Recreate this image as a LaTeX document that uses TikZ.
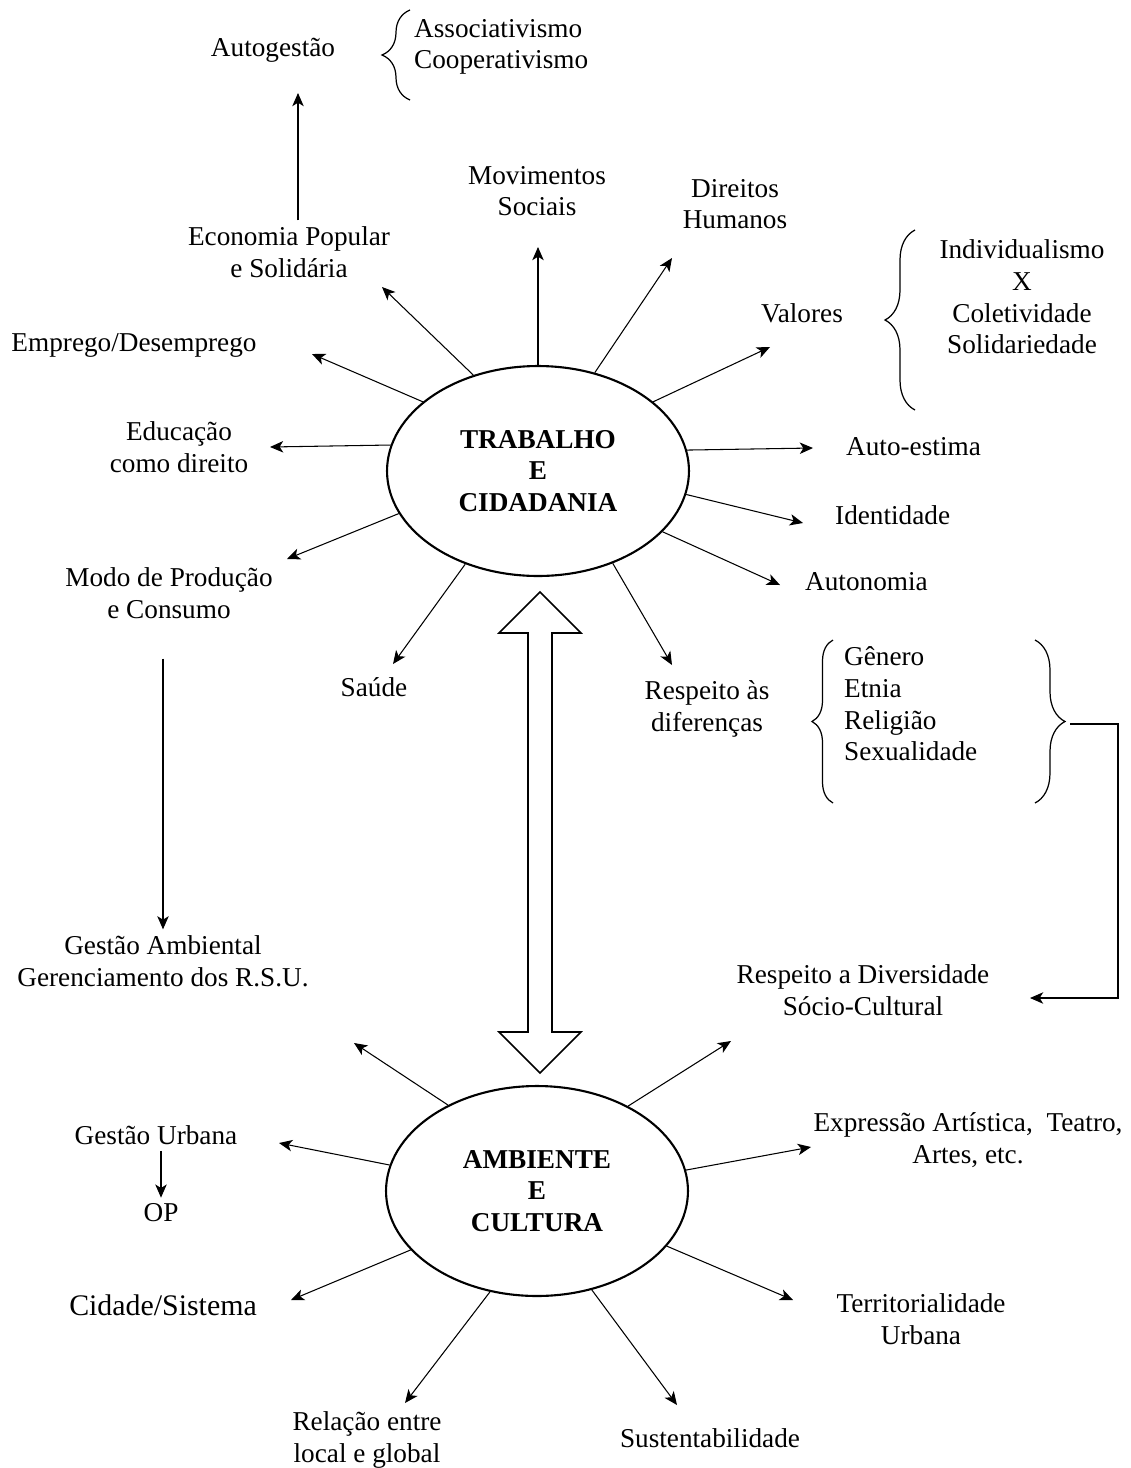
\documentclass[tikz,border=0pt]{standalone}
\usepackage{fontspec}
\setmainfont{Liberation Serif}
\usetikzlibrary{arrows.meta, decorations.pathreplacing, shapes.geometric, calc}

\begin{document}
\begin{tikzpicture}
  [x=0.02cm,y=-0.02cm,
   every node/.style={font=\fontsize{15.5}{18}\selectfont, align=center},
   hub/.style={ellipse, draw, line width=1.2pt, minimum width=6.04cm,
     minimum height=4.2cm, inner sep=0pt,
     font=\fontsize{15.5}{18}\selectfont\bfseries},
   arr/.style={-{Stealth[length=7.5pt,width=6.5pt,inset=2pt]}, line width=0.6pt},
   brc/.style={decorate, decoration={brace, amplitude=#1}, line width=0.7pt},
   bigarrow/.style={draw, line width=0.9pt}]
  \useasboundingbox (0,0) rectangle (1131,1468);

  % the two hubs
  \node[hub] (tc) at (538,471) {TRABALHO\\E\\CIDADANIA};
  \node[hub] (ac) at (537,1191) {AMBIENTE\\E\\CULTURA};

  % labels round TRABALHO E CIDADANIA
  \node (autog) at (273,50)  {Autogestão};
  \node[anchor=west, align=left] (assoc) at (408,47) {Associativismo\\Cooperativismo};
  \node (movs)  at (537,191) {Movimentos\\Sociais};
  \node (dirh)  at (735,204) {Direitos\\Humanos};
  \node (econ)  at (289,252) {Economia Popular\\e Solidária};
  \node (valor) at (802,313) {Valores};
  \node (indiv) at (1022,297) {Individualismo\\X\\Coletividade\\Solidariedade};
  \node (empr)  at (134,345) {Emprego/Desemprego};
  \node (educ)  at (179,447) {Educação\\como direito};
  \node[anchor=west] (autoe) at (840,447) {Auto-estima};
  \node[anchor=west] (ident) at (829,515) {Identidade};
  \node[anchor=west] (auton) at (799,582) {Autonomia};
  \node (modo)  at (169,593) {Modo de Produção\\e Consumo};
  \node (saude) at (374,687) {Saúde};
  \node (resp)  at (707,709) {Respeito às\\diferenças};
  \node[anchor=west, align=left] (genero) at (838,704) {Gênero\\Etnia\\Religião\\Sexualidade};

  % labels round AMBIENTE E CULTURA
  \node (gamb) at (163,961)  {Gestão Ambiental\\Gerenciamento dos R.S.U.};
  \node (rdiv) at (863,990)  {Respeito a Diversidade\\Sócio-Cultural};
  \node (gurb) at (156,1135) {Gestão Urbana};
  \node (op)   at (161,1213) {OP};
  \node (expr) at (968,1140) {Expressão Artística,\ \ Teatro,\\Artes, etc.};
  \node[font=\fontsize{17}{20}\selectfont] (cid) at (163,1305) {Cidade/Sistema};
  \node (terr) at (921,1319) {Territorialidade\\Urbana};
  \node (rel)  at (367,1440) {Relação entre\\local e global};
  \node (sust) at (710,1438) {Sustentabilidade};

  % braces
  \draw[brc=0.56cm] (410,100) -- (410,10);
  \draw[brc=0.6cm]  (915,410) -- (915,230);
  \draw[brc=0.42cm] (833,803) -- (833,640);
  \draw[brc=0.6cm]  (1035,640) -- (1035,803);

  % arrow ends
  \foreach \n/\px/\py in {eEcon/382/287, eMov/538/247, eDir/672/258, eVal/770/347,
      eAut/813/448, eIde/803/523, eAtn/780/585, eRes/672/665, eSau/393/664,
      eMod/287/559, eEdu/270/447, eEmp/312/354,
      fGam/354/1043, fDiv/731/1041, fUrb/279/1143, fExp/811/1147,
      fCid/291/1300, fTer/793/1300, fRel/405/1403, fSus/677/1405,
      eAutog/298/93, brR/1070/724, eDivS/1030/998}
    \coordinate (\n) at (\px,\py);

  \foreach \ang/\dst in {124.8/eEcon, 90/eMov, 60.6/eDir, 31.3/eVal, 8.8/eAut,
      -9.1/eIde, -26.9/eAtn, -51.2/eRes, 232.5/eSau, 197.7/eMod, 170.9/eEdu, 149.5/eEmp}
    \draw[arr] (tc.\ang) -- (\dst);

  \foreach \ang/\dst in {136/fGam, 43.1/fDiv, 170.7/fUrb, 8.7/fExp,
      205.1/fCid, -23.4/fTer, 245.7/fRel, -61/fSus}
    \draw[arr] (ac.\ang) -- (\dst);

  \draw[arr] (econ.north -| eAutog) -- (eAutog);
  \draw[arr, shorten <=0.68cm] (modo.south -| gamb.north) -- (gamb.north);
  \draw[arr] (gurb.south -| op.north) -- (op.north);
  \draw[arr] (brR) -- ++(48,0) |- (eDivS);

  % hollow double arrow between the hubs
  \draw[bigarrow] (540,592) -- (581,633) -- (552,633) -- (552,1032) -- (581,1032)
    -- (540,1073) -- (499,1032) -- (528,1032) -- (528,633) -- (499,633) -- cycle;

\end{tikzpicture}
\end{document}
